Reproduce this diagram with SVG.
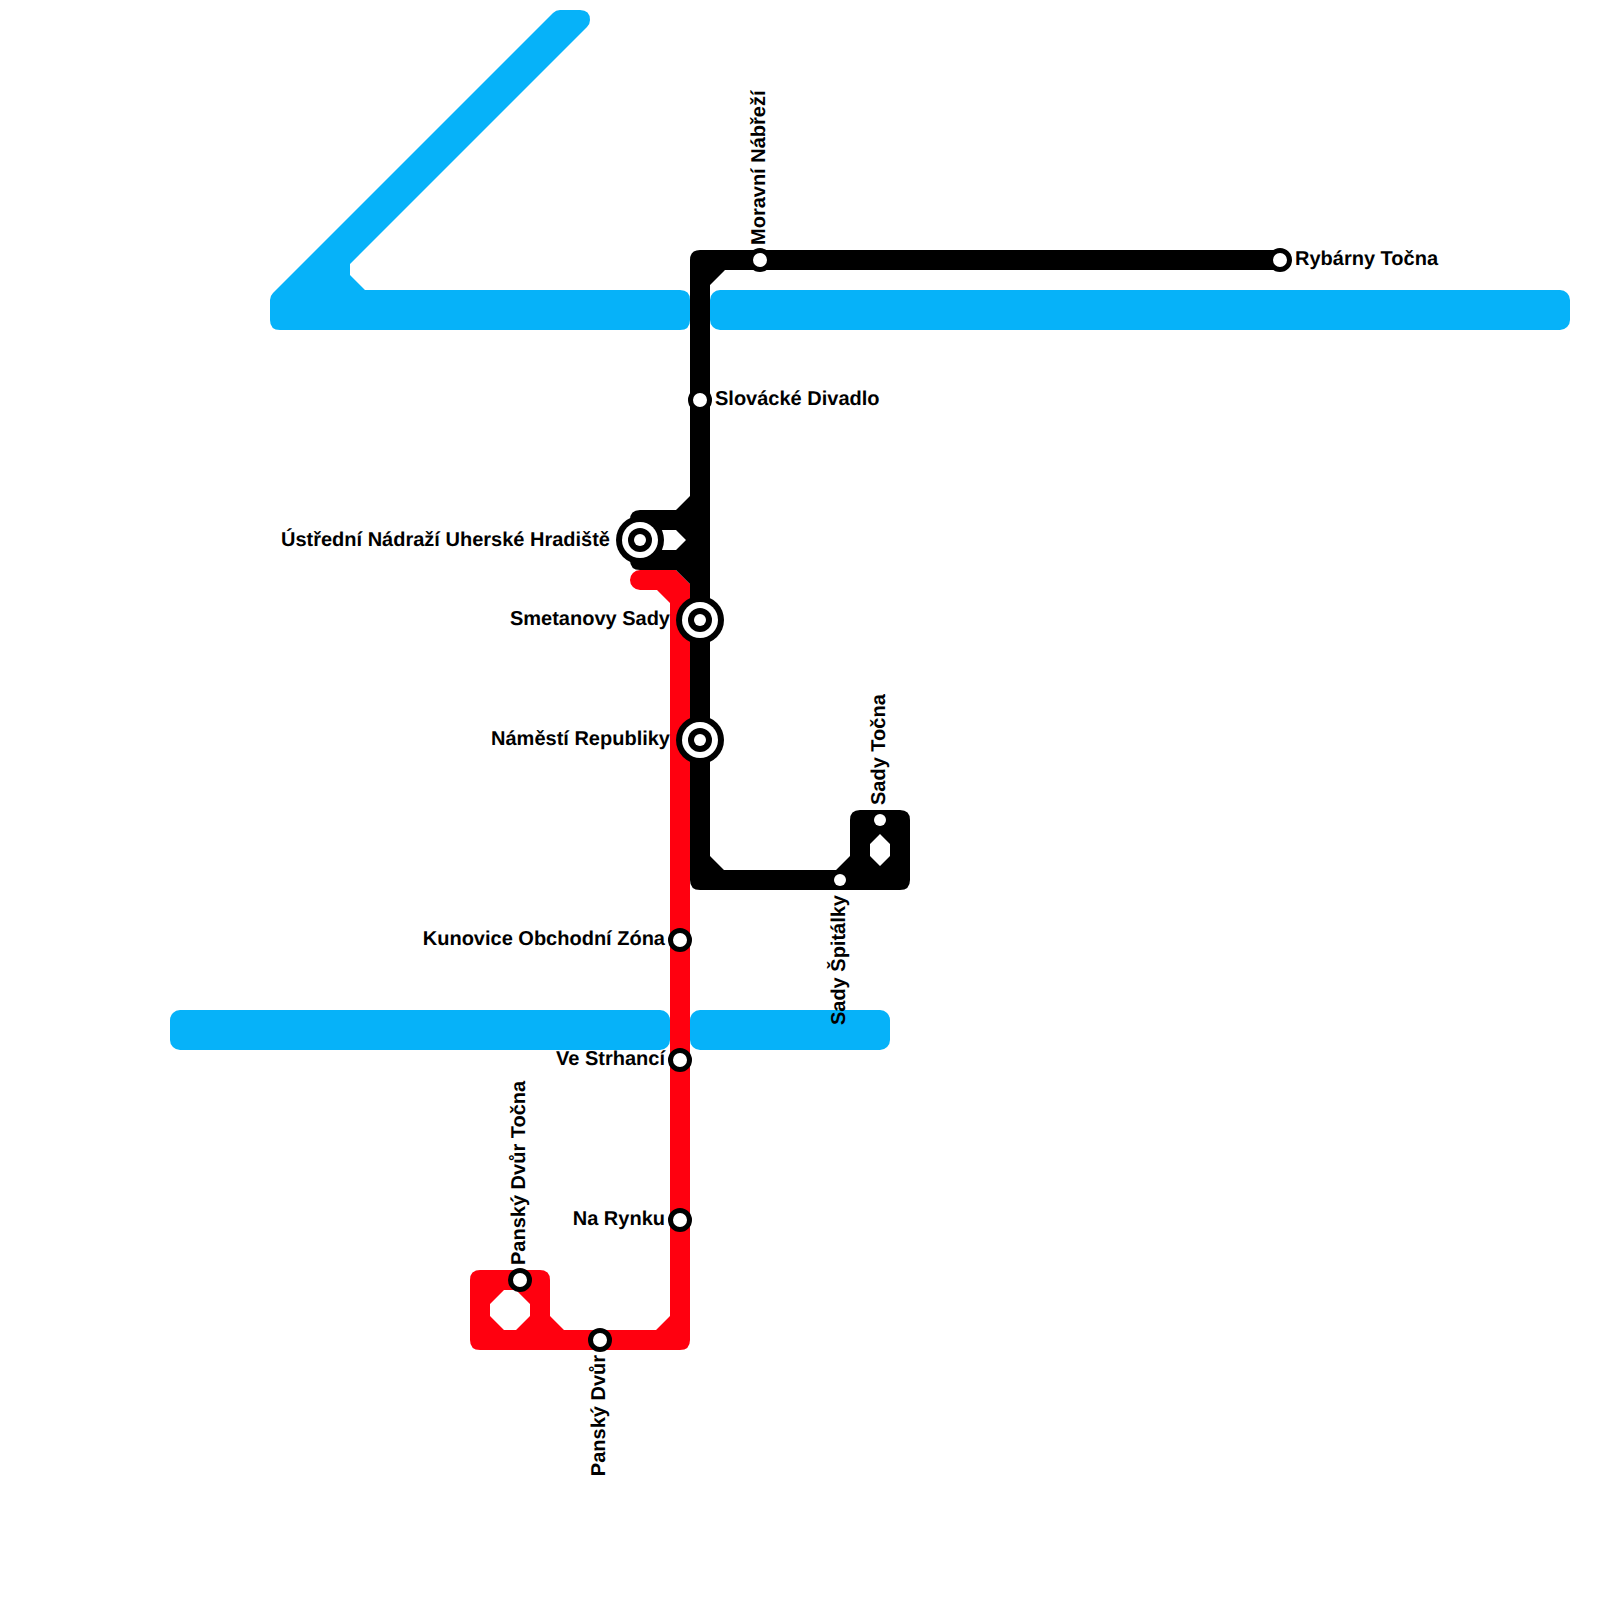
<svg xmlns="http://www.w3.org/2000/svg" width="1600" height="1600" viewBox="0 0 1600 1600">
<style>
.blue{fill:#06b2f9}.black{fill:#000}.red{fill:#ff000f}.hole{fill:#fff}
text{font-family:"Liberation Sans",Arial,sans-serif;font-weight:700;font-size:20px;fill:#000;text-rendering:geometricPrecision}
.e{text-anchor:end}
.ring{fill:#fff;stroke:#000;stroke-width:5}
.dot{fill:#fff}
.i1{fill:#000}
</style>
<g id="connectors">
<path id="blue-top-left" class="blue" d="M270 300Q270 296 273 293L553 13Q556 10 560 10H580Q590 10 590 20Q590 24 587 27L350 264V275L365 290H680Q690 290 690 300V320Q690 330 680 330H280Q270 330 270 320Z"/>
<rect id="blue-top-right" class="blue" x="710" y="290" width="860" height="40" rx="10"/>
<rect id="blue-bottom-left" class="blue" x="170" y="1010" width="500" height="40" rx="10"/>
<rect id="blue-bottom-right" class="blue" x="690" y="1010" width="200" height="40" rx="10"/>
<path id="red-line" class="red" fill-rule="evenodd" d="M640 570H676L690 584V1340Q690 1350 680 1350H480Q470 1350 470 1340V1280Q470 1270 480 1270H540Q550 1270 550 1280V1316L564 1330H656L670 1316V603L657 590H640A10 10 0 0 1 640 570ZM504 1290L490 1304V1316L504 1330H516L530 1316V1304L516 1290Z"/>
<path id="black-line" class="black" fill-rule="evenodd" d="M700 250H1280V270H725L710 285V496V856L724 870H836L850 856V820Q850 810 860 810H900Q910 810 910 820V880Q910 890 900 890H700Q690 890 690 880V584L676 570H640Q630 570 630 560V520Q630 510 640 510H676L690 496V260Q690 250 700 250ZM650 530V550H676L686 540L676 530ZM880 834L870 844V856L880 866L890 856V844Z"/>
</g>
<g id="st-ustredni"><circle class="i1" cx="640" cy="540" r="24"/><circle class="dot" cx="640" cy="540" r="18"/><circle class="i1" cx="640" cy="540" r="12"/><circle class="dot" cx="640" cy="540" r="6"/><text class="e" x="610" y="545.5">Ústřední Nádraží Uherské Hradiště</text></g>
<g id="st-smetanovy"><circle class="i1" cx="700" cy="620" r="24"/><circle class="dot" cx="700" cy="620" r="18"/><circle class="i1" cx="700" cy="620" r="12"/><circle class="dot" cx="700" cy="620" r="6"/><text class="e" x="670" y="625">Smetanovy Sady</text></g>
<g id="st-namesti"><circle class="i1" cx="700" cy="740" r="24"/><circle class="dot" cx="700" cy="740" r="18"/><circle class="i1" cx="700" cy="740" r="12"/><circle class="dot" cx="700" cy="740" r="6"/><text class="e" x="670" y="745">Náměstí Republiky</text></g>
<g id="st-moravni"><circle class="ring" cx="760" cy="260" r="9.5"/><text transform="translate(765 245) rotate(-90)">Moravní Nábřeží</text></g>
<g id="st-rybarny"><circle class="ring" cx="1280" cy="260" r="9.5"/><text x="1295" y="265">Rybárny Točna</text></g>
<g id="st-slovacke"><circle class="ring" cx="700" cy="400" r="9.5"/><text x="715" y="405">Slovácké Divadlo</text></g>
<g id="st-sady-tocna"><circle class="dot" cx="880" cy="820" r="6"/><text transform="translate(885 805) rotate(-90)">Sady Točna</text></g>
<g id="st-sady-spitalky"><circle class="dot" cx="840" cy="880" r="6"/><text class="e" transform="translate(845 895) rotate(-90)">Sady Špitálky</text></g>
<g id="st-kunovice"><circle class="ring" cx="680" cy="940" r="9.5"/><text class="e" x="665" y="945">Kunovice Obchodní Zóna</text></g>
<g id="st-strhanci"><circle class="ring" cx="680" cy="1060" r="9.5"/><text class="e" x="665" y="1065">Ve Strhancí</text></g>
<g id="st-rynku"><circle class="ring" cx="680" cy="1220" r="9.5"/><text class="e" x="665" y="1225">Na Rynku</text></g>
<g id="st-pansky-tocna"><circle class="ring" cx="520" cy="1280" r="9.5"/><text transform="translate(525 1265) rotate(-90)">Panský Dvůr Točna</text></g>
<g id="st-pansky"><circle class="ring" cx="600" cy="1340" r="9.5"/><text class="e" transform="translate(605 1355) rotate(-90)">Panský Dvůr</text></g>
</svg>
